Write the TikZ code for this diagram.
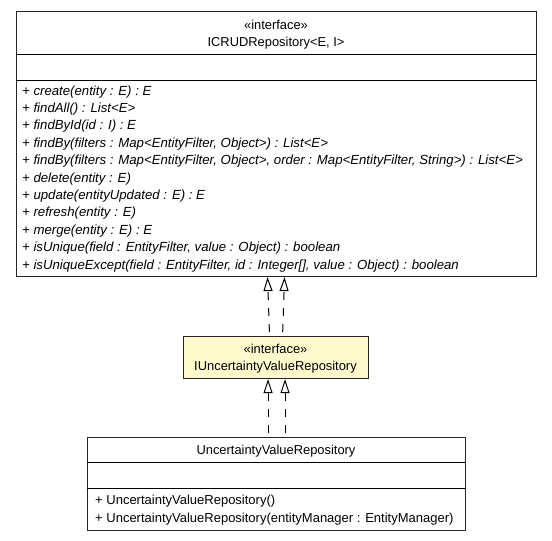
\documentclass[tikz,border=0pt]{standalone}
\usepackage{fontspec}
\setmainfont{Liberation Sans}
\usetikzlibrary{arrows.meta}
\definecolor{ifacefill}{HTML}{FFFACD}
\begin{document}
\begin{tikzpicture}[x=1pt,y=1pt,
  classbox/.style={draw=black!85, line width=1.1pt, inner sep=0pt, anchor=north west},
  rule/.style={draw=black, line width=1pt},
  ctext/.style={font=\fontsize{12.9}{15}\selectfont, inner sep=0pt, anchor=base},
  member/.style={font=\fontsize{13.2}{15}\selectfont\itshape, inner sep=0pt, anchor=base west},
  ctor/.style={font=\fontsize{13}{15}\selectfont, inner sep=0pt, anchor=base west},
  realize/.style={draw=black, line width=1pt, dash pattern=on 8pt off 8pt, dash phase=12pt,
    -{Triangle[open, length=14pt, width=9pt, fill=white]}}
]
\useasboundingbox (0,0) rectangle (552,-541);

% ICRUDRepository interface
\node[classbox, minimum width=520pt, minimum height=265pt] (crud) at (16,-11) {};
\draw[rule] (16,-54) -- (536,-54);
\draw[rule] (16,-80) -- (536,-80);
\node[ctext] (crudst) at (276,-29) {«interface»};
\node[ctext] (crudname) at (276,-46) {ICRUDRepository<E, I>};
\node[member] (m1) at (22,-95) {+ create(entity : E) : E};
\node[member] (m2) at (22,-112.4) {+ findAll() : List<E>};
\node[member] (m3) at (22,-129.8) {+ findById(id : I) : E};
\node[member] (m4) at (22,-147.2) {+ findBy(filters : Map<EntityFilter, Object>) : List<E>};
\node[member] (m5) at (22,-164.6) {+ findBy(filters : Map<EntityFilter, Object>, order : Map<EntityFilter, String>) : List<E>};
\node[member] (m6) at (22,-182) {+ delete(entity : E)};
\node[member] (m7) at (22,-199.4) {+ update(entityUpdated : E) : E};
\node[member] (m8) at (22,-216.8) {+ refresh(entity : E)};
\node[member] (m9) at (22,-234.2) {+ merge(entity : E) : E};
\node[member] (m10) at (22,-251.6) {+ isUnique(field : EntityFilter, value : Object) : boolean};
\node[member] (m11) at (22,-269) {+ isUniqueExcept(field : EntityFilter, id : Integer[], value : Object) : boolean};

% IUncertaintyValueRepository interface
\node[classbox, fill=ifacefill, minimum width=185pt, minimum height=42pt] (iuvr) at (183,-336) {};
\node[ctext] (iuvrst) at (275.5,-353.5) {«interface»};
\node[ctext] (iuvrname) at (275.5,-370) {IUncertaintyValueRepository};

% UncertaintyValueRepository class
\node[classbox, minimum width=378pt, minimum height=93pt] (uvr) at (87,-437) {};
\draw[rule] (87,-462) -- (465,-462);
\draw[rule] (87,-488) -- (465,-488);
\node[ctext] (uvrname) at (276,-454) {UncertaintyValueRepository};
\node[ctor] (c1) at (95,-504) {+ UncertaintyValueRepository()};
\node[ctor] (c2) at (95,-522) {+ UncertaintyValueRepository(entityManager : EntityManager)};

% realization arrows
\draw[realize] ([xshift=-6.5pt]iuvr.north) -- ([xshift=-8.5pt]iuvr.north |- crud.south);
\draw[realize] ([xshift=6.5pt]iuvr.north) -- ([xshift=8.5pt]iuvr.north |- crud.south);
\draw[realize] ([xshift=-8.5pt]uvr.north) -- ([xshift=-8.5pt]uvr.north |- iuvr.south);
\draw[realize] ([xshift=8.5pt]uvr.north) -- ([xshift=8.5pt]uvr.north |- iuvr.south);
\end{tikzpicture}
\end{document}
